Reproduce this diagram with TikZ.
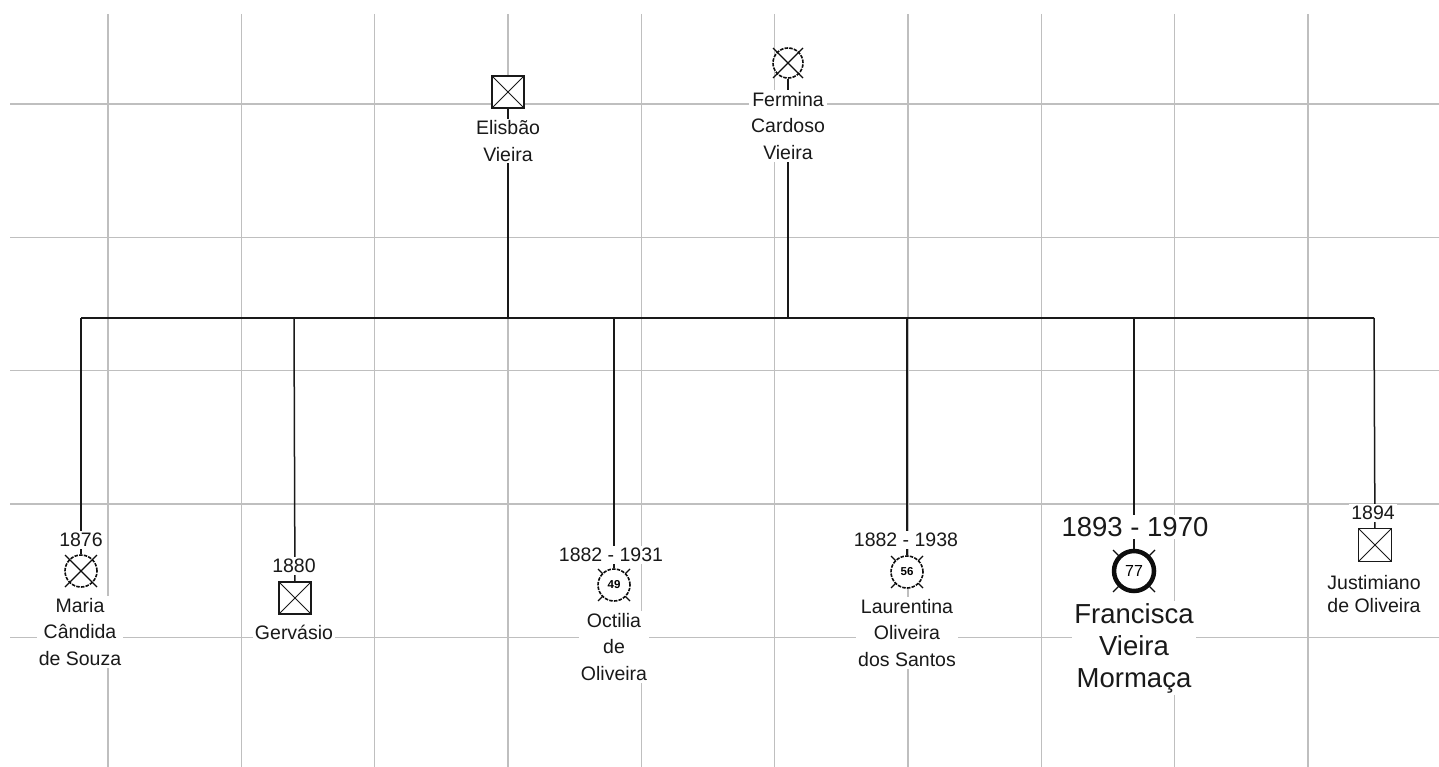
\documentclass[tikz,border=0pt]{standalone}
\usepackage{fontspec}
\setmainfont{Liberation Sans}
\usetikzlibrary{positioning}
\pgfdeclarelayer{back}
\pgfsetlayers{back,main}

\begin{document}
\begin{tikzpicture}[
  x=1pt, y=-1pt,
  namelabel/.style={
    fill=white, inner sep=2pt, align=center, text=black!90,
    font=\fontsize{19.5}{26.5}\selectfont
  },
  yearlabel/.style={fill=white, inner sep=2pt, text=black!90, font=\fontsize{19.5}{24}\selectfont},
  biglabel/.style={font=\fontsize{27.5}{32}\selectfont},
  male/.style={
    rectangle, draw=black!90, fill=white, line width=1.5pt,
    minimum size=32pt, inner sep=0pt,
    path picture={\draw[line width=1pt]
      (path picture bounding box.north west) -- (path picture bounding box.south east)
      (path picture bounding box.north east) -- (path picture bounding box.south west);}
  },
  female/.style={
    circle, draw=black!95, fill=white, line width=1.6pt,
    dash pattern=on 3.5pt off 1.2pt, minimum size=31pt, inner sep=0pt,
    font=\fontsize{11.5}{11.5}\selectfont\bfseries
  },
  mainperson/.style={female, solid, line width=4.5pt, minimum size=40pt, font=\fontsize{16}{16}\selectfont},
  cross/.style={black!95, line width=1.1pt},
  gridline/.style={black!25, line width=1.3pt},
  link/.style={black!90, line width=1.5pt},
]
\useasboundingbox (0,0) rectangle (1439,767);

% Parents
\node[male] (elisbao) at (508,92) {};
\node[namelabel] (elisbao_n) at (508,141) {Elisbão\\Vieira};

\node[female, minimum size=30pt] (fermina) at (788,63) {};
\draw[cross] ([shift={(-15,-15)}]fermina.center) -- ([shift={(15,15)}]fermina.center)
  ([shift={(15,-15)}]fermina.center) -- ([shift={(-15,15)}]fermina.center);
\node[namelabel] (fermina_n) at (788,126) {Fermina\\Cardoso\\Vieira};

% Sibship bar junctions
\coordinate (j_maria)      at (81,318);
\coordinate (j_gervasio)   at (294,318);
\coordinate (j_elisbao)    at (508,318);
\coordinate (j_octilia)    at (614,318);
\coordinate (j_fermina)    at (788,318);
\coordinate (j_laurentina) at (907,318);
\coordinate (j_francisca)  at (1134,318);
\coordinate (j_justimiano) at (1374,318);

% Children
\node[female, minimum size=32pt] (maria) at (81,571) {};
\draw[cross] ([shift={(-16,-16)}]maria.center) -- ([shift={(16,16)}]maria.center)
  ([shift={(16,-16)}]maria.center) -- ([shift={(-16,16)}]maria.center);
\node[yearlabel] (maria_y) at (81,540) {1876};
\node[namelabel] (maria_n) at (80,632) {Maria\\Cândida\\de Souza};

\node[male] (gervasio) at (295,598) {};
\node[yearlabel] (gervasio_y) at (294,566) {1880};
\node[namelabel] (gervasio_n) at (294,632) {Gervásio};

\coordinate (octilia_c) at (614,585);
\draw[cross] ([shift={(-16,-16)}]octilia_c) -- ([shift={(16,16)}]octilia_c)
  ([shift={(16,-16)}]octilia_c) -- ([shift={(-16,16)}]octilia_c);
\node[female, minimum size=32pt] (octilia) at (octilia_c) {49};
\node[yearlabel] (octilia_y) at (611,555) {1882 - 1931};
\node[namelabel] (octilia_n) at (614,647) {Octilia\\de\\Oliveira};

\coordinate (laurentina_c) at (907,572);
\draw[cross] ([shift={(-16,-16)}]laurentina_c) -- ([shift={(16,16)}]laurentina_c)
  ([shift={(16,-16)}]laurentina_c) -- ([shift={(-16,16)}]laurentina_c);
\node[female, minimum size=32pt] (laurentina) at (laurentina_c) {56};
\node[yearlabel] (laurentina_y) at (906,540) {1882 - 1938};
\node[namelabel] (laurentina_n) at (907,633) {Laurentina\\Oliveira\\dos Santos};

\coordinate (francisca_c) at (1134,571);
\draw[cross] ([shift={(-21,-21)}]francisca_c) -- ([shift={(21,21)}]francisca_c)
  ([shift={(21,-21)}]francisca_c) -- ([shift={(-21,21)}]francisca_c);
\node[mainperson] (francisca) at (francisca_c) {77};
\node[yearlabel, biglabel] (francisca_y) at (1135,527) {1893 - 1970};
\node[namelabel, biglabel] (francisca_n) at (1134,648) {Francisca\\Vieira\\Mormaça};

\node[male, minimum size=33pt] (justimiano) at (1375,545) {};
\node[yearlabel] (justimiano_y) at (1373,513) {1894};
\node[namelabel, font=\fontsize{19.5}{23.5}\selectfont] (justimiano_n) at (1374,594) {Justimiano\\de Oliveira};

\begin{pgfonlayer}{back}
% grid
\foreach \gx in {108,241.3,374.7,508,641.3,774.7,908,1041.3,1174.7,1308}
  \draw[gridline] (\gx,14) -- (\gx,767);
\foreach \gy in {104,237.3,370.7,504,637.3}
  \draw[gridline] (10,\gy) -- (1439,\gy);
% sibship bar and links
\draw[link] (j_maria) -- (j_justimiano);
\draw[link] (elisbao) -- (j_elisbao);
\draw[link] (fermina) -- (j_fermina);
\draw[link] (j_maria) -- (maria);
\draw[link] (j_gervasio) -- (gervasio);
\draw[link] (j_octilia) -- (octilia);
\draw[link] (j_laurentina) -- (laurentina);
\draw[link] (j_francisca) -- (francisca);
\draw[link] (j_justimiano) -- (justimiano);
\end{pgfonlayer}

\end{tikzpicture}
\end{document}
